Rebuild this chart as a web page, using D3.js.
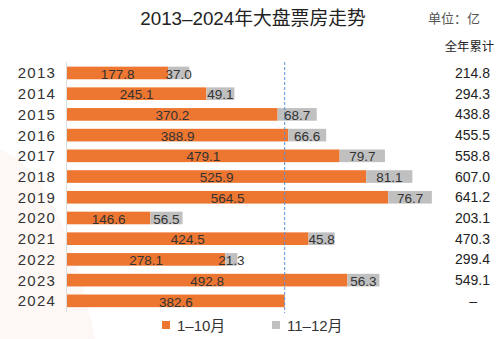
<!DOCTYPE html>
<html><head><meta charset="utf-8">
<script src="https://cdn.jsdelivr.net/npm/d3@7"></script>
<style>
html,body{margin:0;padding:0;background:#fff;}
svg text{font-family:"Liberation Sans","Noto Sans CJK SC",sans-serif;}
</style></head>
<body>
<svg id="c" width="503" height="339"></svg>
<script>
const years = ["2013","2014","2015","2016","2017","2018","2019","2020","2021","2022","2023","2024"];
const janOct = [177.8,245.1,370.2,388.9,479.1,525.9,564.5,146.6,424.5,278.1,492.8,382.6];
const novDec = [37.0,49.1,68.7,66.6,79.7,81.1,76.7,56.5,45.8,21.3,56.3,null];
const totals = ["214.8","294.3","438.8","455.5","558.8","607.0","641.2","203.1","470.3","299.4","549.1","–"];
const seriesNames = ["1–10月","11–12月"];
const title = "2013–2024年大盘票房走势";
const unitLabel = "单位：亿";
const totalHeader = "全年累计";

const svg = d3.select("#c");
const orange = "#ED7631", grey = "#C0C0C0", txt = "#333";

// faint background shape
svg.append("path").attr("d","M0,150 Q60,170 95,339 L0,339 Z").attr("fill","#fdf8f5");

const x = d3.scaleLinear().domain([0,100]).range([67,67+56.9]);
const y = d3.scaleBand().domain(years).range([62.5,311.3]).paddingInner(0.39).paddingOuter(0.2);

svg.append("text").attr("x",253).attr("y",25).attr("text-anchor","middle")
  .attr("font-size",18.8).attr("fill","#222").text(title);
svg.append("text").attr("x",428).attr("y",23).attr("font-size",13).attr("fill","#555").text(unitLabel);
svg.append("text").attr("x",494).attr("y",51).attr("text-anchor","end").attr("font-size",12.3).attr("fill","#222").text(totalHeader);

// axis line
svg.append("line").attr("x1",66.5).attr("x2",66.5).attr("y1",62).attr("y2",312).attr("stroke","#ddd").attr("stroke-width",1);

const g = svg.append("g");
years.forEach((yr,i)=>{
  const yy = y(yr), h = y.bandwidth();
  const a = janOct[i], b = novDec[i];
  g.append("rect").attr("x",x(0)).attr("y",yy).attr("width",x(a)-x(0)).attr("height",h).attr("fill",orange);
  if(b!=null){
    g.append("rect").attr("x",x(a)).attr("y",yy).attr("width",x(a+b)-x(a)).attr("height",h).attr("fill",grey);
  }
});
// dashed reference line at 2024 value
svg.append("line").attr("x1",x(janOct[11])).attr("x2",x(janOct[11]))
  .attr("y1",62).attr("y2",313).attr("stroke","#5b8fe0").attr("stroke-width",1).attr("stroke-dasharray","3,2");

years.forEach((yr,i)=>{
  const cy = y(yr)+y.bandwidth()/2;
  const a = janOct[i], b = novDec[i];
  svg.append("text").attr("x",56).attr("y",cy).attr("dy","0.36em").attr("text-anchor","end")
    .attr("font-size",15).attr("fill",txt).attr("letter-spacing","1.2px").text(yr);
  svg.append("text").attr("x",(x(0)+x(a))/2).attr("y",cy).attr("dy","0.42em").attr("text-anchor","middle")
    .attr("font-size",13.5).attr("fill",txt).text(a.toFixed(1));
  if(b!=null){
    svg.append("text").attr("x",(x(a)+x(a+b))/2).attr("y",cy).attr("dy","0.42em").attr("text-anchor","middle")
      .attr("font-size",13.5).attr("fill",txt).text(b.toFixed(1));
  }
  svg.append("text").attr("x",i===11?477:490).attr("y",cy).attr("dy","0.36em").attr("text-anchor","end")
    .attr("font-size",14).attr("fill","#222").text(totals[i]);
});

// legend
const leg = [{c:orange,x:162,t:seriesNames[0]},{c:grey,x:272,t:seriesNames[1]}];
leg.forEach(l=>{
  svg.append("rect").attr("x",l.x).attr("y",321).attr("width",8).attr("height",8).attr("fill",l.c);
  svg.append("text").attr("x",l.x+15).attr("y",325).attr("dy","0.38em").attr("font-size",15).attr("fill",txt).text(l.t);
});
</script>
</body></html>
